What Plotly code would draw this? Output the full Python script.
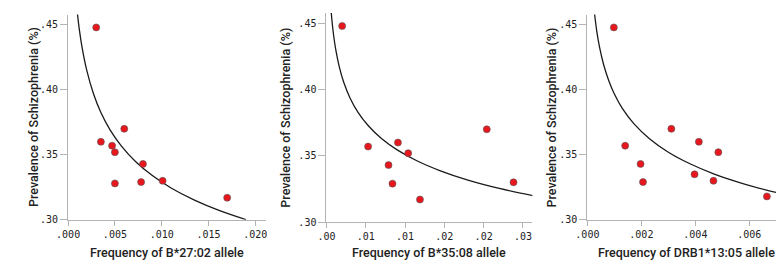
import plotly.graph_objects as go

# ---- data ----
prev_b2702 = [0.448, 0.360, 0.357, 0.352, 0.370, 0.328, 0.343, 0.329, 0.330, 0.317]
freq_b2702 = [0.0030, 0.0035, 0.0047, 0.0050, 0.0060, 0.0050, 0.0080, 0.0078, 0.0101, 0.0170]

prev_b3508 = [0.448, 0.357, 0.360, 0.352, 0.343, 0.329, 0.317, 0.370, 0.330]
freq_b3508 = [0.0020, 0.0053, 0.0091, 0.0104, 0.0079, 0.0084, 0.0119, 0.0204, 0.0238]

prev_drb1 = [0.448, 0.357, 0.343, 0.329, 0.370, 0.360, 0.335, 0.352, 0.330, 0.318]
freq_drb1 = [0.00098, 0.00140, 0.00197, 0.00206, 0.00311, 0.00413, 0.00397, 0.00485, 0.00467, 0.00665]

# fitted curves
curve1_x = [0.00095, 0.0012, 0.0015, 0.0020, 0.0027, 0.0035, 0.0045, 0.0057, 0.0072,
            0.0090, 0.0110, 0.0135, 0.0162, 0.0190]
curve1_y = [0.4615, 0.4463, 0.4322, 0.4147, 0.3972, 0.3826, 0.3690, 0.3567, 0.3449,
            0.3340, 0.3245, 0.3152, 0.3071, 0.3002]
curve2_x = [0.00055, 0.0007, 0.0009, 0.0012, 0.00163, 0.0022, 0.0030, 0.0040, 0.0053,
            0.0070, 0.0090, 0.0115, 0.0145, 0.0180, 0.0220, 0.0264]
curve2_y = [0.4629, 0.4523, 0.4416, 0.4297, 0.4173, 0.4055, 0.3937, 0.3830, 0.3729,
            0.3631, 0.3545, 0.3463, 0.3387, 0.3317, 0.3254, 0.3198]
curve3_x = [0.00025, 0.00027, 0.00035, 0.00045, 0.00060, 0.00080, 0.00100, 0.00130,
            0.00172, 0.00230, 0.00300, 0.00380, 0.00470, 0.00570, 0.00660, 0.00740]
curve3_y = [0.4614, 0.4576, 0.4448, 0.4328, 0.4195, 0.4066, 0.3968, 0.3855,
            0.3740, 0.3624, 0.3520, 0.3431, 0.3352, 0.3283, 0.3231, 0.3191]

y_ticks = [0.30, 0.35, 0.40, 0.45]
y_ticktext = [".30", ".35", ".40", ".45"]
x1_ticks = [0.0, 0.005, 0.010, 0.015, 0.020]
x1_ticktext = [".000", ".005", ".010", ".015", ".020"]
x2_ticks = [0.0, 0.005, 0.010, 0.015, 0.020, 0.025]
x2_ticktext = [".00", ".01", ".01", ".02", ".02", ".03"]
x3_ticks = [0.0, 0.002, 0.004, 0.006]
x3_ticktext = [".000", ".002", ".004", ".006"]

x_titles = ["Frequency of B*27:02 allele", "Frequency of B*35:08 allele",
            "Frequency of DRB1*13:05 allele"]
y_title = "Prevalence of Schizophrenia (%)"

W, H = 784, 265
fig = go.Figure()

panels = [
    (freq_b2702, prev_b2702, curve1_x, curve1_y, x1_ticks, x1_ticktext, [0, 0.0211],
     (49.0, 250.0), (6.7, 216.7), 13),
    (freq_b3508, prev_b3508, curve2_x, curve2_y, x2_ticks, x2_ticktext, [0, 0.0262],
     (312.0, 521.7), (5.0, 219.0), 270),
    (freq_drb1, prev_drb1, curve3_x, curve3_y, x3_ticks, x3_ticktext, [0, 0.00736],
     (577.7, 780.0), (6.7, 216.7), 541),
]

TEXT = "#222222"
AXIS = "#b4b4b4"
tickfont = dict(family="DejaVu Sans Mono", size=10, color=TEXT)
titlefont = dict(family="Roboto", size=12.5, color=TEXT, weight=500)

layout = {}
for i, (fx, py, cx, cy, xt, xtt, xr, (px0, px1), (py0, py1), ytx) in enumerate(panels, start=1):
    xa = f"x{i}" if i > 1 else "x"
    ya = f"y{i}" if i > 1 else "y"
    fig.add_trace(go.Scatter(x=cx, y=cy, mode="lines", xaxis=xa, yaxis=ya,
                             line=dict(color="#1a1a1a", width=1.3, shape="spline", smoothing=1.0),
                             hoverinfo="skip", showlegend=False, cliponaxis=True))
    fig.add_trace(go.Scatter(x=fx, y=py, mode="markers", xaxis=xa, yaxis=ya,
                             marker=dict(size=7, color="#e8161d",
                                         line=dict(color="#555555", width=0.6)),
                             showlegend=False))
    dom_x = [px0 / W, px1 / W]
    dom_y = [(H - py1) / H, (H - py0) / H]
    layout[f"xaxis{i if i > 1 else ''}"] = dict(
        domain=dom_x, range=xr, anchor=ya, tickvals=xt, ticktext=xtt,
        showgrid=False, zeroline=False, showline=True, linecolor=AXIS, linewidth=1,
        ticks="outside", ticklen=5, tickcolor=AXIS, tickfont=tickfont)
    layout[f"yaxis{i if i > 1 else ''}"] = dict(
        domain=dom_y, range=[0.30, 0.4579], anchor=xa, tickvals=y_ticks, ticktext=y_ticktext,
        showgrid=False, zeroline=False, showline=True, linecolor=AXIS, linewidth=1,
        ticks="outside", ticklen=7, tickcolor=AXIS, tickfont=tickfont)
    fig.add_annotation(x=(px0 + px1) / 2 / W, y=(H - 250) / H, xref="paper", yref="paper",
                       text=x_titles[i - 1], showarrow=False, font=titlefont,
                       xanchor="center", yanchor="middle")
    fig.add_annotation(x=ytx / W, y=(H - (py0 + py1) / 2) / H, xref="paper", yref="paper",
                       text=y_title, showarrow=False, font=titlefont, textangle=-90,
                       xanchor="center", yanchor="middle")

fig.update_layout(**layout)
fig.update_layout(width=W, height=H, margin=dict(l=0, r=0, t=0, b=0),
                  paper_bgcolor="white", plot_bgcolor="white")
fig.write_html("out.html")
